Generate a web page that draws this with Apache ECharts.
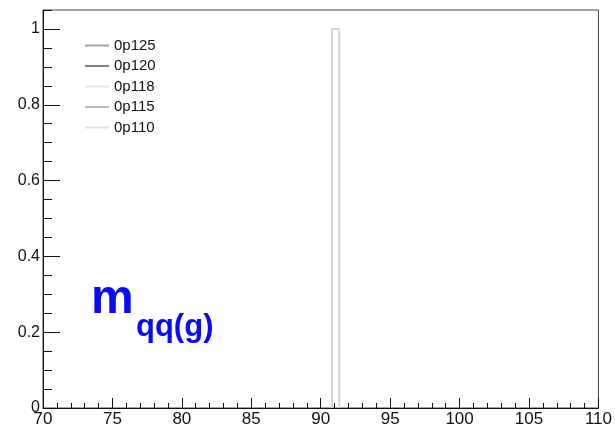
<!DOCTYPE html>
<html>
<head>
<meta charset="utf-8">
<script src="https://cdn.jsdelivr.net/npm/echarts@6/dist/echarts.min.js"></script>
<style>
  html, body { margin: 0; padding: 0; background: #ffffff; }
  #chart { width: 615px; height: 428px; }
</style>
</head>
<body>
<div id="chart"></div>
<script>
// Histogram bin edges (GeV) and entries for each sample
const binEdges = [90.8, 91.3];
const seriesNames = ['0p125', '0p120', '0p118', '0p115', '0p110'];
const counts0p125 = [1];
const counts0p120 = [1];
const counts0p118 = [1];
const counts0p115 = [1];
const counts0p110 = [1];
const xTickLabels = ['70', '75', '80', '85', '90', '95', '100', '105', '110'];
const yTickLabels = ['0', '0.2', '0.4', '0.6', '0.8', '1'];

const allCounts = [counts0p125, counts0p120, counts0p118, counts0p115, counts0p110];
const lineColors = ['#a2a2a2', '#7e7e7e', '#e6e6e6', '#b9b9b9', '#e2e2e2'];
const drawOrder = [1, 2, 4, 0, 3];

// Outline of a step histogram from bin edges and contents
function outline(edges, values) {
  const pts = [[edges[0], 0]];
  for (let i = 0; i < values.length; i++) {
    pts.push([edges[i], values[i]]);
    pts.push([edges[i + 1], values[i]]);
  }
  pts.push([edges[edges.length - 1], 0]);
  return pts;
}

const FONT = '"Liberation Sans", Arial, Helvetica, sans-serif';

const series = seriesNames.map((name, i) => ({
  name: name,
  type: 'line',
  data: outline(binEdges, allCounts[i]),
  symbol: 'none',
  z: 2 + drawOrder[i],
  lineStyle: { color: lineColors[i], width: 1 },
  itemStyle: { color: lineColors[i], opacity: 0 },
  animation: false
}));

const chart = echarts.init(document.getElementById('chart'), null, { renderer: 'canvas' });
chart.setOption({
  animation: false,
  backgroundColor: '#ffffff',
  grid: {
    left: 43, right: 16, top: 10, bottom: 18,
    show: true, borderColor: '#444', borderWidth: 1, backgroundColor: 'transparent'
  },
  legend: {
    orient: 'vertical',
    left: 84, top: 38, padding: 0,
    itemWidth: 24, itemHeight: 14, itemGap: 5.5,
    itemStyle: { opacity: 0 },
    textStyle: { fontFamily: FONT, fontSize: 15, color: '#111' },
    data: seriesNames
  },
  xAxis: {
    type: 'value', min: 70, max: 110, interval: 5,
    axisLine: { show: true, onZero: false, lineStyle: { color: '#111', width: 1 } },
    axisTick: { show: true, inside: true, length: 10, lineStyle: { color: '#111' } },
    minorTick: { show: true, splitNumber: 5, length: 5, lineStyle: { color: '#111' } },
    splitLine: { show: false },
    axisLabel: {
      margin: 3, fontFamily: FONT, fontSize: 17, color: '#111',
      formatter: v => xTickLabels.includes(String(v)) ? String(v) : ''
    }
  },
  yAxis: [
    {
      // minor ticks every 0.05
      type: 'value', min: 0, max: 1.05, interval: 0.05,
      axisLine: { show: true, onZero: false, lineStyle: { color: '#111', width: 1 } },
      axisTick: { show: true, inside: true, length: 9, lineStyle: { color: '#111' } },
      splitLine: { show: false },
      axisLabel: { show: false }
    },
    {
      // major ticks and labels every 0.2
      type: 'value', min: 0, max: 1.05, interval: 0.2, position: 'left', offset: 0,
      axisLine: { show: false },
      axisTick: { show: true, inside: true, length: 17, lineStyle: { color: '#111' } },
      splitLine: { show: false },
      axisLabel: {
        margin: 3, fontFamily: FONT, fontSize: 16, color: '#111', showMaxLabel: false,
        formatter: v => {
          const s = String(Math.round(v * 100) / 100);
          return yTickLabels.includes(s) ? s : '';
        }
      }
    }
  ],
  series: series,
  graphic: [
    {
      type: 'text', left: 91, top: 300 - 24, z: 100,
      style: { text: 'm', font: 'bold 48px ' + FONT, fill: '#0a0af5' }
    },
    {
      type: 'text', left: 136, top: 327 - 15.5, z: 100,
      style: { text: 'qq(g)', font: 'bold 31px ' + FONT, fill: '#0a0af5' }
    }
  ]
});
</script>
</body>
</html>
